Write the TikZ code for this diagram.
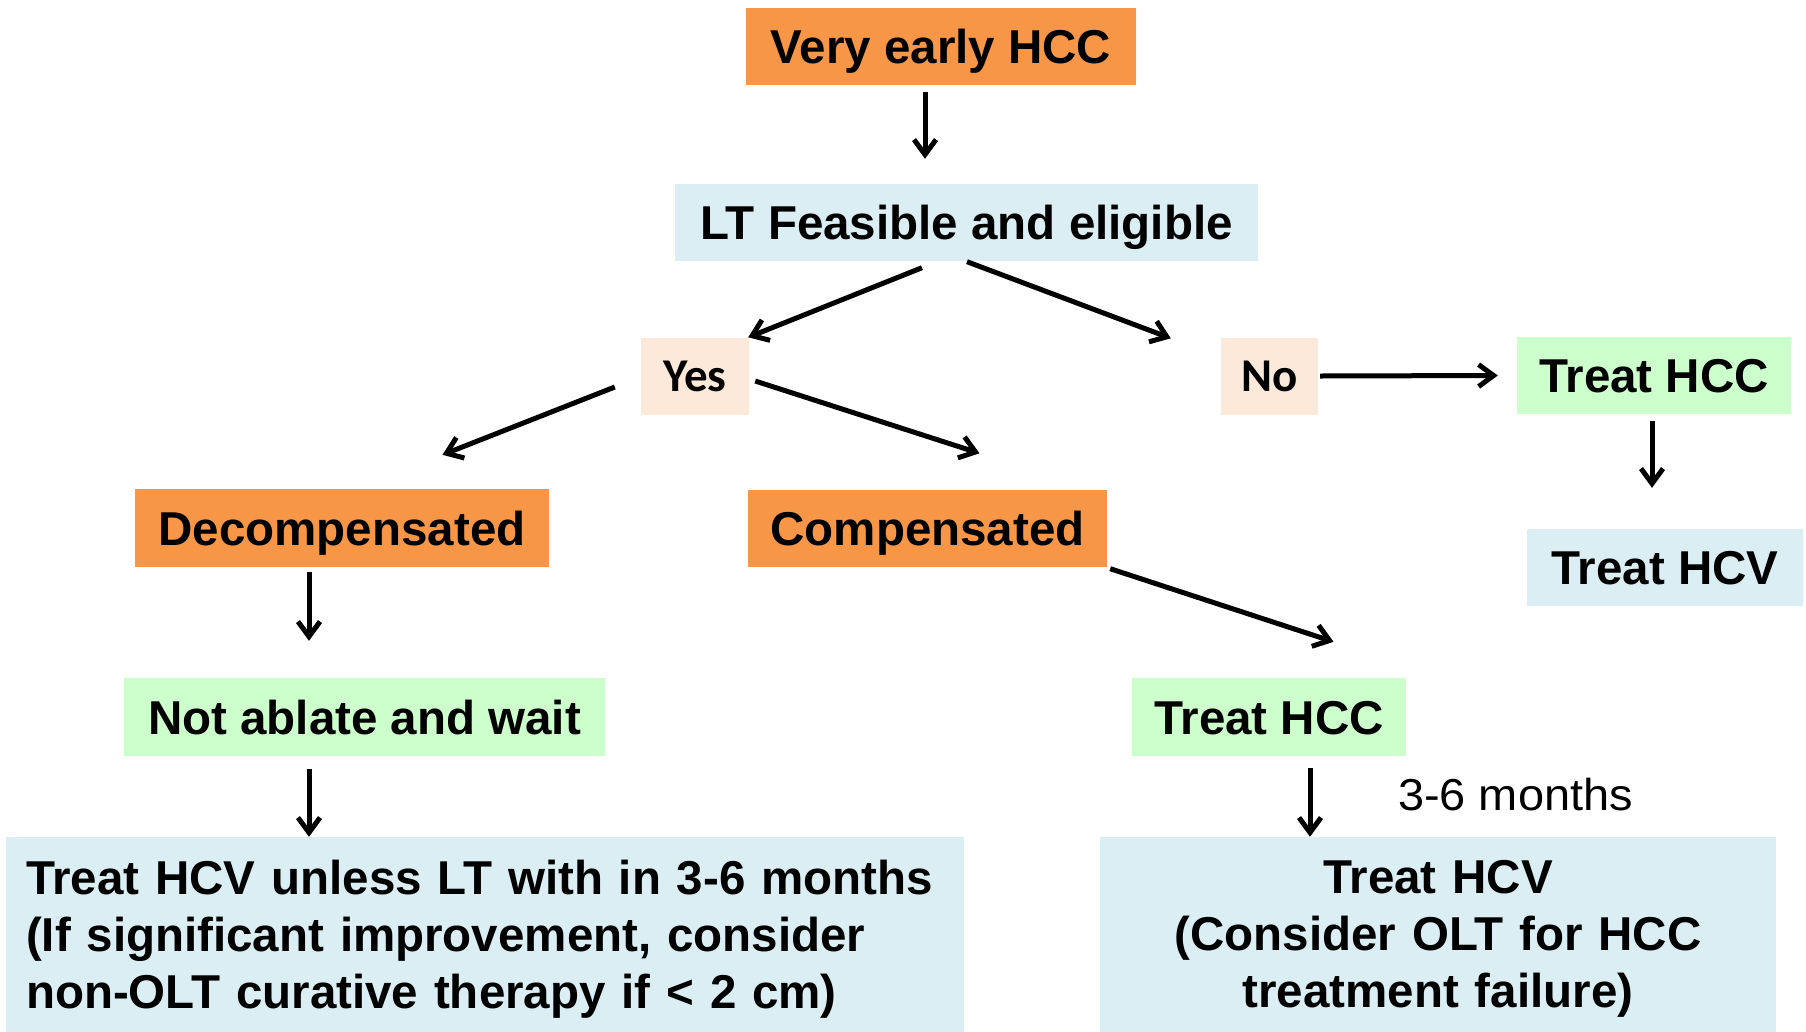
\documentclass[tikz,border=0pt]{standalone}
\usepackage{fontspec}
\setmainfont{Liberation Sans}
\newfontfamily\calfont{Carlito}
\usetikzlibrary{arrows.meta,calc}
\definecolor{orng}{HTML}{F79646}
\definecolor{lblue}{HTML}{DAEEF3}
\definecolor{lgreen}{HTML}{CCFFCC}
\definecolor{peach}{HTML}{FDE9D9}
\begin{document}
\begin{tikzpicture}[x=1pt,y=-1pt,
  box/.style={rectangle, inner sep=0pt, font=\fontsize{47.5}{57}\selectfont\bfseries, text height=34pt, text depth=0pt},
  yn/.style={rectangle, inner sep=0pt, font=\calfont\fontsize{47}{56}\selectfont\bfseries, text height=30pt, text depth=0pt, fill=peach, minimum height=77pt},
  bigbox/.style={rectangle, inner ysep=0pt, inner xsep=20pt, font=\fontsize{47.5}{57}\selectfont\bfseries, fill=lblue, minimum height=204pt},
  arr/.style={line width=5pt, -{Straight Barb[length=15pt,width=22pt]}},
]
\useasboundingbox[fill=white] (0,0) rectangle (1806,1031);

% nodes
\node[box, fill=orng, minimum width=390pt, minimum height=77pt] (v) at (941,46.5) {Very early HCC};
\node[box, fill=lblue, minimum width=583pt, minimum height=77pt] (lt) at (966.5,222.5) {LT Feasible and eligible};
\node[yn, minimum width=108pt] (yes) at (695,376) {Yes};
\node[yn, minimum width=97pt] (no) at (1269.5,376) {No};
\node[box, fill=lgreen, minimum width=274pt, minimum height=77pt] (thcc1) at (1654,375.5) {Treat HCC};
\node[box, fill=lblue, minimum width=276pt, minimum height=77pt] (thcv1) at (1665,567.5) {Treat HCV};
\node[box, fill=orng, minimum width=414pt, minimum height=78pt] (dec) at (342,528) {Decompensated};
\node[box, fill=orng, minimum width=359pt, minimum height=77pt] (comp) at (927.5,528) {Compensated};
\node[box, fill=lgreen, minimum width=481pt, minimum height=78pt] (nab) at (364.5,717) {Not ablate and wait};
\node[box, fill=lgreen, minimum width=274pt, minimum height=78pt] (thcc2) at (1269,717) {Treat HCC};
\node[bigbox, text width=918pt, align=left] (bl) at (485,939)
  {Treat HCV unless LT with in 3-6 months\\(If significant improvement, consider\\non-OLT curative therapy if < 2 cm)};
\node[bigbox, text width=636pt, align=center] (br) at (1438,939)
  {Treat HCV\\(Consider OLT for HCC\\treatment failure)};
\node[inner sep=0pt, font=\fontsize{44.7}{54}\selectfont, text height=32pt, text depth=0pt] (months) at (1515.5,794)
  {\scalebox{1.05}[1]{3-6 months}};

% connectors
\draw[arr] ($(v.south)+(-16,7)$) -- ($(lt.north)+(-41.5,-25)$);
\draw[arr] ($(lt.south)+(-44.5,6.5)$) -- ($(yes.north east)+(-1,0)$);
\draw[arr] ($(lt.south)+(0.5,0.5)$) -- ($(no.north west)+(-50,1)$);
\draw[arr] ($(no.east)+(2,0)$) -- ($(thcc1.west)+(-19,0)$);
\draw[arr] ($(thcc1.south)+(-2,7)$) -- ($(thcv1.north)+(-13,-41)$);
\draw[arr] ($(yes.west)+(-26,11)$) -- ($(dec.north)+(100.5,-34)$);
\draw[arr] ($(yes.east)+(6,5)$) -- ($(comp.north)+(52,-36)$);
\draw[arr] ($(dec.south)+(-33,5)$) -- ($(nab.north)+(-55.5,-37)$);
\draw[arr] ($(comp.south east)+(3,2)$) -- ($(thcc2.north)+(64.5,-36)$);
\draw[arr] ($(thcc2.south)+(41,12)$) -- ($(br.north)+(-128,0)$);
\draw[arr] ($(nab.south)+(-55.5,13)$) -- ($(bl.north)+(-176,0)$);
\end{tikzpicture}
\end{document}
